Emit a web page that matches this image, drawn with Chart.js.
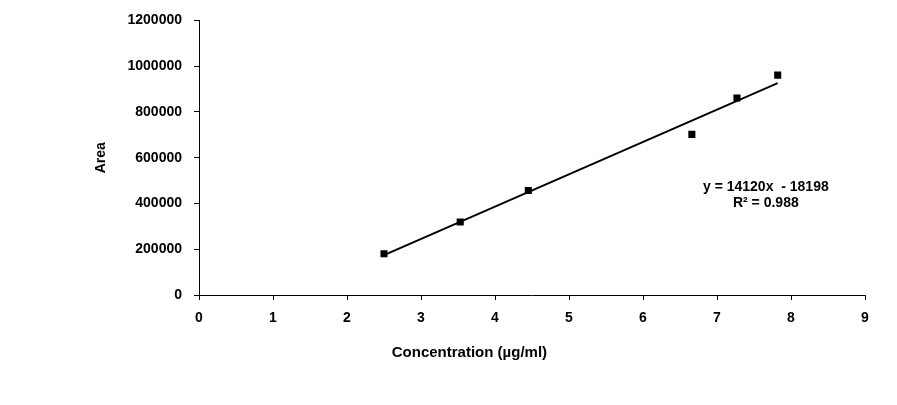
<!DOCTYPE html>
<html>
<head>
<meta charset="utf-8">
<script src="https://cdn.jsdelivr.net/npm/chart.js@4"></script>
<style>
  html, body { margin: 0; padding: 0; background: #fff; }
  #wrap { width: 897px; height: 405px; }
</style>
</head>
<body>
<div id="wrap"><canvas id="calib"></canvas></div>
<script>
/* Calibration curve: area vs concentration, with linear trendline. */
var concentration = [2.5, 3.53, 4.45, 6.66, 7.27, 7.82];
var area = [180000, 319000, 457000, 702000, 861000, 961000];
var trendX = [2.5, 7.82];
var trendY = [174000, 926000];
var equationLines = ["y = 14120x  - 18198", "R\u00b2 = 0.988"];
var xTitle = "Concentration (\u00b5g/ml)";
var yTitle = "Area";

(function () {
  "use strict";
  var FONT = "'Liberation Sans', Arial, sans-serif";
  var tickFont = { family: FONT, size: 14, weight: "bold" };

  var labels = {
    id: "labels",
    afterDraw: function (chart) {
      var ctx = chart.ctx;
      var xs = chart.scales.x, ys = chart.scales.y;
      ctx.save();
      ctx.fillStyle = "#000";
      ctx.font = "bold 14px " + FONT;
      ctx.textAlign = "center";
      ctx.textBaseline = "middle";
      var ex = xs.getPixelForValue(7.66);
      var ey = ys.getPixelForValue(471000);
      ctx.fillText(equationLines[0], ex, ey);
      ctx.fillText(equationLines[1], ex, ey + 16);
      var a = chart.chartArea;
      ctx.font = "bold 15px " + FONT;
      ctx.fillText(xTitle, a.left + (a.right - a.left) * 0.406, 353);
      ctx.restore();
    },
  };

  new Chart(document.getElementById("calib"), {
    type: "scatter",
    data: {
      datasets: [
        {
          label: "Area",
          data: concentration.map(function (c, i) { return { x: c, y: area[i] }; }),
          pointStyle: "rect",
          pointRadius: 5,
          borderWidth: 0,
          backgroundColor: "#000",
          showLine: false,
        },
        {
          type: "line",
          label: "Linear",
          data: trendX.map(function (c, i) { return { x: c, y: trendY[i] }; }),
          borderColor: "#000",
          borderWidth: 2,
          pointRadius: 0,
          fill: false,
        },
      ],
    },
    options: {
      responsive: true,
      maintainAspectRatio: false,
      animation: false,
      layout: { padding: { left: 93, top: 19, right: 32, bottom: 0 } },
      scales: {
        x: {
          type: "linear",
          min: 0,
          max: 9,
          border: { color: "#000", width: 1 },
          grid: { drawOnChartArea: false, color: "#000", tickLength: 5 },
          ticks: { stepSize: 1, color: "#000", font: tickFont, padding: 10, maxRotation: 0 },
          afterFit: function (s) { s.height = 110; },
        },
        y: {
          min: 0,
          max: 1200000,
          border: { color: "#000", width: 1 },
          grid: { drawOnChartArea: false, color: "#000", tickLength: 5 },
          ticks: {
            stepSize: 200000,
            color: "#000",
            font: tickFont,
            padding: 12,
            callback: function (v) { return String(v); },
          },
          title: { display: true, text: yTitle, color: "#000", font: tickFont, padding: 0 },
          afterFit: function (s) { s.width = 106; },
        },
      },
      plugins: {
        legend: { display: false },
        tooltip: { enabled: false },
      },
    },
    plugins: [labels],
  });
})();
</script>
</body>
</html>
